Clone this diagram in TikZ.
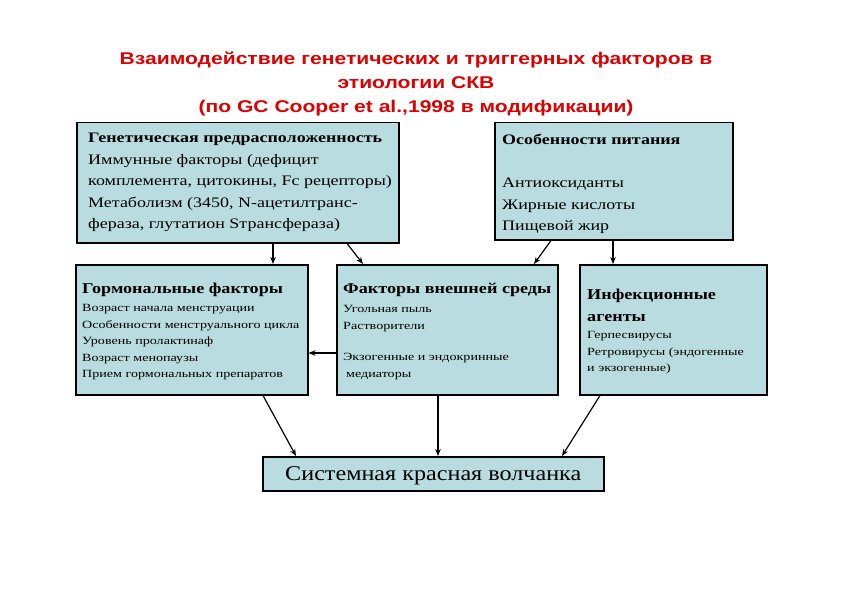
\documentclass[tikz,border=0pt]{standalone}
\usepackage{fontspec}
\setmainfont{Liberation Serif}
\newfontfamily\titlefont[FakeStretch=1.24]{Liberation Sans}
\newfontfamily\wideL[FakeStretch=1.24]{Liberation Serif}
\newfontfamily\wideS[FakeStretch=1.28]{Liberation Serif}
\newfontfamily\wideH[FakeStretch=1.21]{Liberation Serif}
\newfontfamily\wideT[FakeStretch=1.15]{Liberation Serif}
\usetikzlibrary{arrows.meta}
\definecolor{boxfill}{RGB}{184,220,224}
\definecolor{titlered}{RGB}{220,0,0}
\begin{document}
\begin{tikzpicture}[x=1pt,y=-1pt,
  box/.style={draw=black, line width=1.5pt, fill=boxfill, anchor=north west, inner sep=0pt},
  txt/.style={anchor=north west, align=left, inner sep=0pt},
  bigtxt/.style={txt, font=\wideL\fontsize{14.5}{21.5}\selectfont},
  smalltxt/.style={txt, font=\wideS\fontsize{11}{16.6}\selectfont},
  conn/.style={-{Stealth[length=7pt,width=5.5pt]}, line width=1.2pt}]
\useasboundingbox (0,0) rectangle (842,596);
\fill[white] (0,0) rectangle (842,596);
% title
\node[align=center, inner sep=0pt, text=titlered, font=\titlefont\bfseries\fontsize{17}{24}\selectfont, anchor=north] (title) at (416,52)
  {Взаимодействие генетических и триггерных факторов в\\этиологии СКВ\\(по GC Cooper et al.,1998 в модификации)};
% boxes
\node[box, minimum width=322pt, minimum height=120pt] (gen) at (76,122) {};
\node[box, minimum width=238pt, minimum height=117pt] (nut) at (494,122) {};
\node[box, minimum width=232pt, minimum height=130pt] (horm) at (75,264) {};
\node[box, minimum width=221pt, minimum height=130pt] (env) at (336,264) {};
\node[box, minimum width=187pt, minimum height=130pt] (inf) at (579,264) {};
\node[box, minimum width=341pt, minimum height=34pt] (sle) at (262,456) {};
% texts
\node[bigtxt] (gent) at ([shift={(12,11)}]gen.north west)
  {\textbf{Генетическая предрасположенность}\\Иммунные факторы (дефицит\\комплемента, цитокины, Fc рецепторы)\\Метаболизм (3450, N-ацетилтранс-\\фераза, глутатион Sтрансфераза)};
\node[bigtxt] (nutt) at ([shift={(8,12)}]nut.north west)
  {\textbf{Особенности питания}\\[21.5pt]Антиоксиданты\\Жирные кислоты\\Пищевой жир};
\node[txt] (hormh) at ([shift={(7,19)}]horm.north west)
  {\wideH\fontsize{15}{18}\selectfont\bfseries Гормональные факторы};
\node[smalltxt] (hormt) at ([shift={(7,40)}]horm.north west)
  {Возраст начала менструации\\Особенности менструального цикла\\Уровень пролактинаф\\Возраст менопаузы\\Прием гормональных препаратов};
\node[txt] (envh) at ([shift={(7,19)}]env.north west)
  {\wideH\fontsize{15}{18}\selectfont\bfseries Факторы внешней среды};
\node[smalltxt] (envt) at ([shift={(7,41)}]env.north west)
  {Угольная пыль\\Растворители\\[15pt]Экзогенные и эндокринные\\\hspace*{3pt}медиаторы};
\node[txt, font=\wideH\fontsize{15}{22}\selectfont\bfseries] (infh) at ([shift={(8,25)}]inf.north west)
  {Инфекционные\\агенты};
\node[smalltxt] (inft) at ([shift={(8,67)}]inf.north west)
  {Герпесвирусы\\Ретровирусы (эндогенные\\и экзогенные)};
\node[inner sep=0pt, font=\wideT\fontsize{21}{24}\selectfont] (slet) at ([yshift=-2pt]sle.center) {Системная красная волчанка};
% connectors
\draw[conn] (gen.south -| 273,0) -- (horm.north -| 273,0);
\draw[conn] (gen.south -| 347,0) -- (env.north -| 363,0);
\draw[conn] (nut.south -| 551,0) -- (env.north -| 534,0);
\draw[conn] (nut.south -| 613,0) -- (inf.north -| 613,0);
\draw[conn] (env.west |- 0,353) -- (horm.east |- 0,353);
\draw[conn] (horm.south -| 263,0) -- (sle.north -| 296,0);
\draw[conn] (env.south -| 438,0) -- (sle.north -| 438,0);
\draw[conn] (inf.south -| 600,0) -- (sle.north -| 562,0);
\end{tikzpicture}
\end{document}
